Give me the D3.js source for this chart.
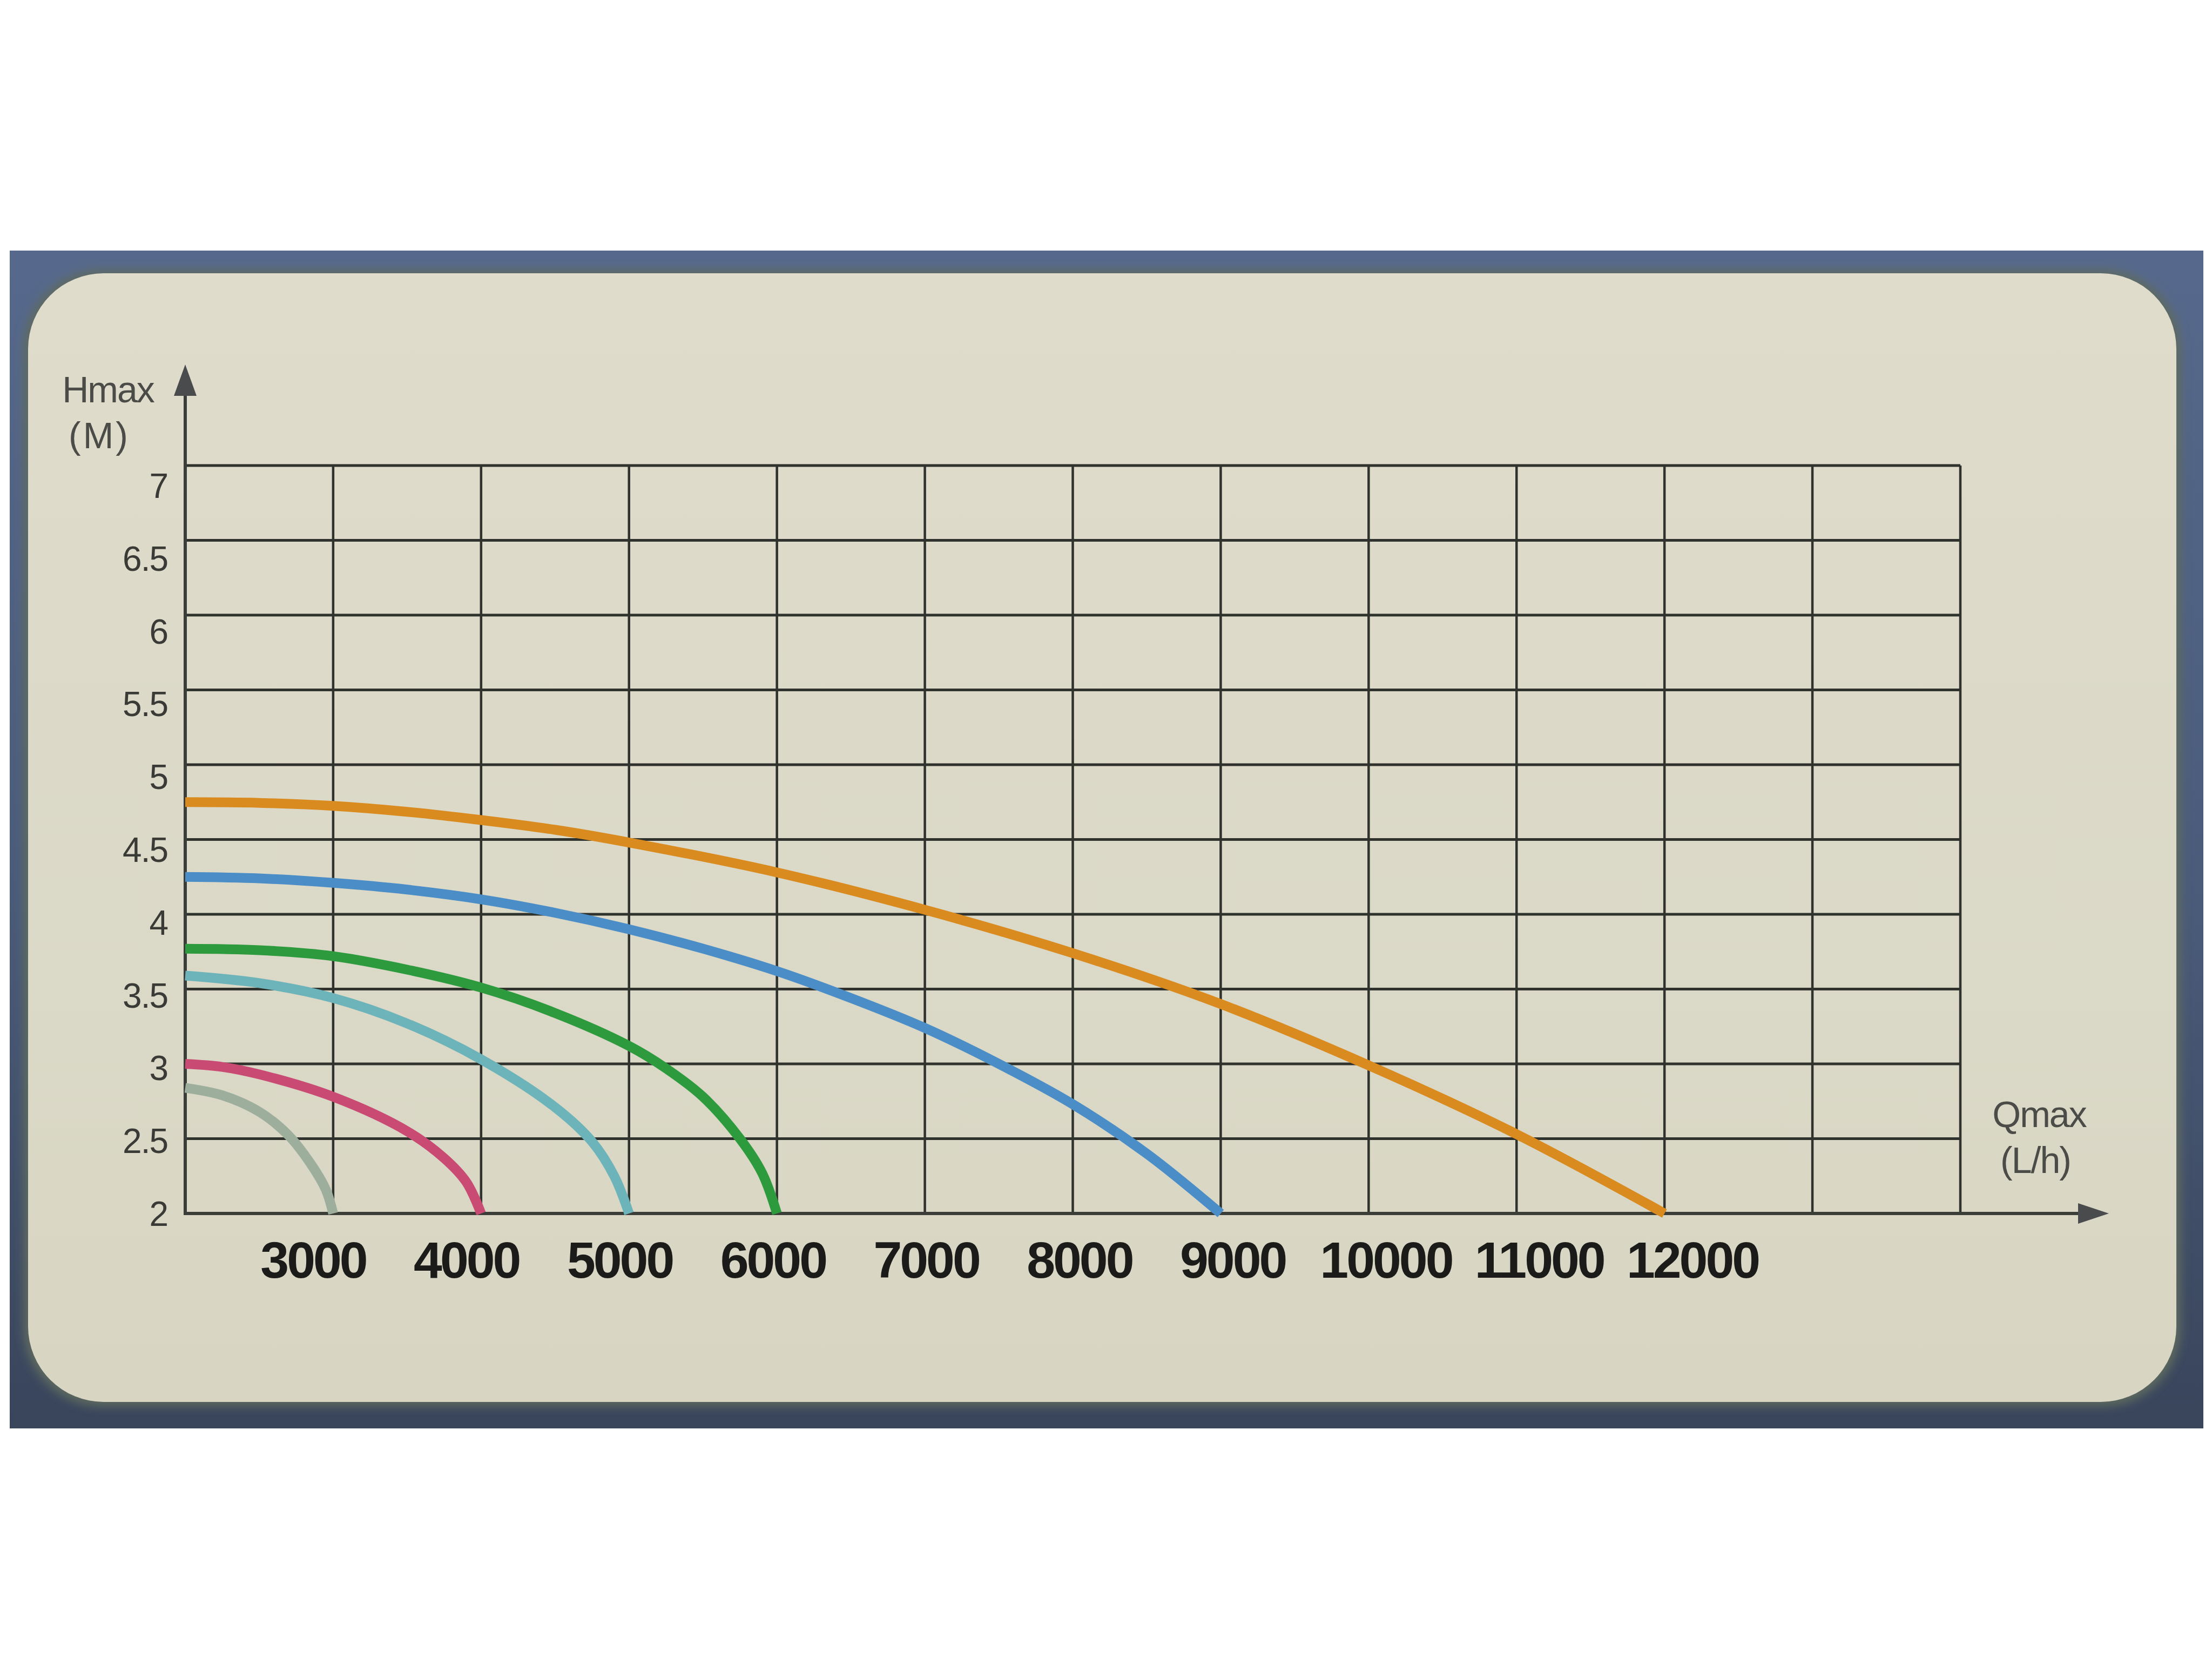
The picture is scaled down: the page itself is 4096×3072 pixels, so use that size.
<!DOCTYPE html>
<html>
<head>
<meta charset="utf-8">
<script src="https://cdn.jsdelivr.net/npm/d3@7"></script>
<style>
  html, body { margin: 0; padding: 0; background: #ffffff; }
  svg { display: block; }
</style>
</head>
<body>
<script>
// ---------------- DATA ----------------
const flowTickValues = [3000, 4000, 5000, 6000, 7000, 8000, 9000, 10000, 11000, 12000];
const flowTickLabels = ["3000", "4000", "5000", "6000", "7000", "8000", "9000", "10000", "11000", "12000"];
const flowGridValues = [2000, 3000, 4000, 5000, 6000, 7000, 8000, 9000, 10000, 11000, 12000, 13000, 14000];
const headTickValues = [2, 2.5, 3, 3.5, 4, 4.5, 5, 5.5, 6, 6.5, 7];
const headTickLabels = ["2", "2.5", "3", "3.5", "4", "4.5", "5", "5.5", "6", "6.5", "7"];

const seriesNames  = ["3000 L/h", "4000 L/h", "5000 L/h", "6000 L/h", "9000 L/h", "12000 L/h"];
const seriesColors = ["#9dae9d", "#c94a73", "#6db3ba", "#2d9b3d", "#4b8ec7", "#d98b1f"];

const pump3000  = [[2000, 2.84], [2250, 2.79], [2500, 2.68], [2700, 2.52], [2850, 2.33], [2950, 2.16], [3000, 2.00]];
const pump4000  = [[2000, 3.00], [2250, 2.98], [2500, 2.93], [3000, 2.78], [3500, 2.55], [3750, 2.37], [3900, 2.21], [4000, 2.00]];
const pump5000  = [[2000, 3.59], [2500, 3.54], [3000, 3.44], [3500, 3.27], [4000, 3.03], [4500, 2.71], [4750, 2.48], [4900, 2.25], [5000, 2.00]];
const pump6000  = [[2000, 3.77], [2500, 3.76], [3000, 3.72], [3500, 3.63], [4000, 3.51], [4500, 3.34], [5000, 3.12], [5250, 2.97], [5500, 2.78], [5750, 2.50], [5900, 2.27], [6000, 2.00]];
const pump9000  = [[2000, 4.25], [2500, 4.24], [3000, 4.21], [3500, 4.165], [4000, 4.10], [4500, 4.01], [5000, 3.90], [5500, 3.77], [6000, 3.62], [6500, 3.44], [7000, 3.24], [7500, 3.00], [8000, 2.73], [8500, 2.40], [9000, 2.00]];
const pump12000 = [[2000, 4.75], [2500, 4.745], [3000, 4.725], [3500, 4.685], [4000, 4.63], [4500, 4.565], [5000, 4.48], [6000, 4.28], [7000, 4.03], [8000, 3.74], [9000, 3.40], [10000, 2.99], [11000, 2.53], [12000, 2.00]];
const seriesData = [pump3000, pump4000, pump5000, pump6000, pump9000, pump12000];

// ---------------- LAYOUT ----------------
const W = 4096, H = 3072;
const svg = d3.select("body").append("svg").attr("width", W).attr("height", H);
const defs = svg.append("defs");

const frameGrad = defs.append("linearGradient").attr("id", "frameGrad")
  .attr("x1", 0).attr("y1", 0).attr("x2", 0).attr("y2", 1);
frameGrad.append("stop").attr("offset", "0%").attr("stop-color", "#56698c");
frameGrad.append("stop").attr("offset", "55%").attr("stop-color", "#4a5b7a");
frameGrad.append("stop").attr("offset", "100%").attr("stop-color", "#39455b");

const panelGrad = defs.append("linearGradient").attr("id", "panelGrad")
  .attr("x1", 0).attr("y1", 0).attr("x2", 0).attr("y2", 1);
panelGrad.append("stop").attr("offset", "0%").attr("stop-color", "#dfdccc");
panelGrad.append("stop").attr("offset", "100%").attr("stop-color", "#d8d6c3");

const blur = defs.append("filter").attr("id", "softEdge")
  .attr("x", "-5%").attr("y", "-5%").attr("width", "110%").attr("height", "110%");
blur.append("feGaussianBlur").attr("stdDeviation", 9);

// white page
svg.append("rect").attr("width", W).attr("height", H).attr("fill", "#ffffff");
// navy frame
svg.append("rect").attr("x", 18).attr("y", 464).attr("width", 4062).attr("height", 2181)
  .attr("fill", "url(#frameGrad)");
// soft dark rim around the panel
svg.append("rect").attr("x", 44).attr("y", 500).attr("width", 3994).attr("height", 2104)
  .attr("rx", 145).attr("ry", 145).attr("fill", "#5f6a5e").attr("filter", "url(#softEdge)");
// panel
svg.append("rect").attr("x", 52).attr("y", 506).attr("width", 3978).attr("height", 2090)
  .attr("rx", 140).attr("ry", 140).attr("fill", "url(#panelGrad)");

// ---------------- SCALES ----------------
const x = d3.scaleLinear().domain([2000, 14000]).range([343, 3630]);
const y = d3.scaleLinear().domain([2, 7]).range([2247, 862]);
const yLabelBase = d3.scaleLinear().domain([2, 7]).range([2270, 922]);
const xLabelPos = d3.scaleLinear().domain([3000, 12000]).range([580, 3134]);

const gridColor = "#30332d";
const g = svg.append("g");

// horizontal grid lines
g.selectAll("line.h").data(headTickValues).join("line")
  .attr("class", "h")
  .attr("x1", x(2000)).attr("x2", x(14000))
  .attr("y1", d => y(d)).attr("y2", d => y(d))
  .attr("stroke", gridColor).attr("stroke-width", 5);

// vertical grid lines
g.selectAll("line.v").data(flowGridValues.filter(v => v !== 2000)).join("line")
  .attr("class", "v")
  .attr("x1", d => x(d)).attr("x2", d => x(d))
  .attr("y1", y(7)).attr("y2", y(2))
  .attr("stroke", gridColor).attr("stroke-width", 4.5);

// Y axis with arrow
const axisColor = "#3b3e38";
g.append("line")
  .attr("x1", x(2000)).attr("x2", x(2000))
  .attr("y1", y(2) + 3).attr("y2", 725)
  .attr("stroke", axisColor).attr("stroke-width", 6);
g.append("path")
  .attr("d", `M${x(2000)},675 L${x(2000) - 21},733 L${x(2000) + 21},733 Z`)
  .attr("fill", "#4a4b4c");

// X axis with arrow
g.append("line")
  .attr("x1", x(2000) - 3).attr("x2", 3855)
  .attr("y1", y(2)).attr("y2", y(2))
  .attr("stroke", axisColor).attr("stroke-width", 6);
g.append("path")
  .attr("d", `M3905,${y(2)} L3848,${y(2) - 19} L3848,${y(2) + 19} Z`)
  .attr("fill", "#4a4b4c");

// ---------------- CURVES ----------------
const line = d3.line()
  .x(d => x(d[0]))
  .y(d => y(d[1]))
  .curve(d3.curveCatmullRom.alpha(0.5));

svg.append("g").selectAll("path.curve").data(seriesData).join("path")
  .attr("class", "curve")
  .attr("d", line)
  .attr("fill", "none")
  .attr("stroke", (d, i) => seriesColors[i])
  .attr("stroke-width", 18)
  .attr("stroke-linecap", "butt")
  .attr("stroke-linejoin", "round")
  .append("title").text((d, i) => seriesNames[i]);

// ---------------- TEXT ----------------
const font = "'Liberation Sans', Arial, Helvetica, sans-serif";

// Y tick labels
svg.append("g").selectAll("text").data(headTickValues).join("text")
  .attr("x", 310)
  .attr("y", d => yLabelBase(d))
  .attr("text-anchor", "end")
  .attr("font-family", font)
  .attr("font-size", 64)
  .attr("letter-spacing", -2)
  .attr("fill", "#3a3b37")
  .text((d, i) => headTickLabels[i]);

// X tick labels
svg.append("g").selectAll("text").data(flowTickValues).join("text")
  .attr("x", d => xLabelPos(d))
  .attr("y", 2366)
  .attr("text-anchor", "middle")
  .attr("font-family", font)
  .attr("font-weight", "bold")
  .attr("font-size", 95)
  .attr("letter-spacing", -4)
  .attr("fill", "#1b1c1a")
  .text((d, i) => flowTickLabels[i]);

// Axis titles
const titleColor = "#4b4c47";
svg.append("text").attr("x", 200).attr("y", 745)
  .attr("text-anchor", "middle").attr("font-family", font).attr("font-size", 68)
  .attr("letter-spacing", -2).attr("fill", titleColor).text("Hmax");
svg.append("text").attr("x", 184).attr("y", 830)
  .attr("text-anchor", "middle").attr("font-family", font).attr("font-size", 68)
  .attr("letter-spacing", 4).attr("fill", titleColor).text("(M)");

svg.append("text").attr("x", 3776).attr("y", 2087)
  .attr("text-anchor", "middle").attr("font-family", font).attr("font-size", 68)
  .attr("letter-spacing", -2).attr("fill", titleColor).text("Qmax");
svg.append("text").attr("x", 3769).attr("y", 2172)
  .attr("text-anchor", "middle").attr("font-family", font).attr("font-size", 68)
  .attr("letter-spacing", -2).attr("fill", titleColor).text("(L/h)");
</script>
</body>
</html>
